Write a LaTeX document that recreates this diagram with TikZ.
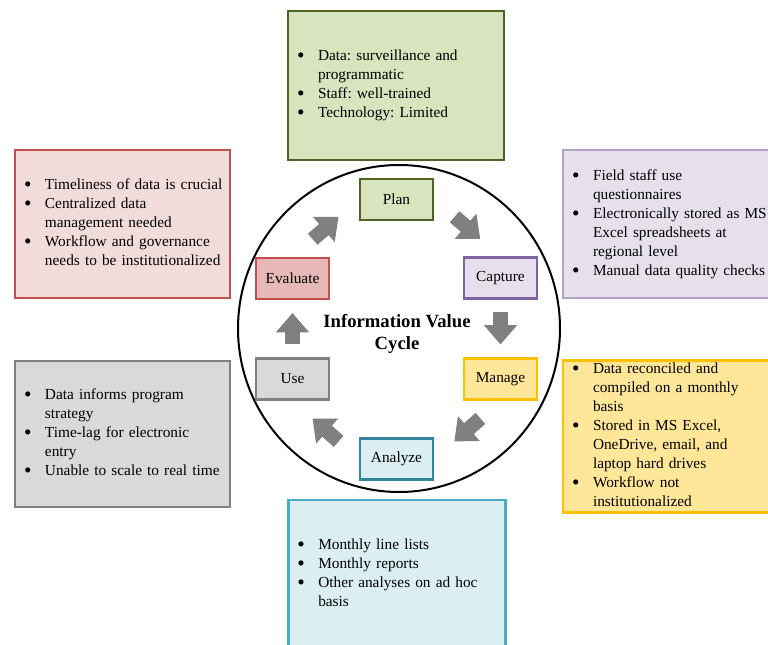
\documentclass[tikz,border=0pt]{standalone}
\usepackage{fontspec}
\setmainfont{Liberation Serif}
\usetikzlibrary{arrows.meta}

\definecolor{grnfill}{HTML}{D7E4BD}
\definecolor{grnline}{HTML}{4F6228}
\definecolor{redfill}{HTML}{F2DCDB}
\definecolor{redline}{HTML}{C0504D}
\definecolor{evalfill}{HTML}{E6B9B8}
\definecolor{greyfill}{HTML}{D9D9D9}
\definecolor{greyline}{HTML}{808080}
\definecolor{purfill}{HTML}{E6E0EC}
\definecolor{purline}{HTML}{B3A2C7}
\definecolor{capline}{HTML}{8064A2}
\definecolor{yelfill}{HTML}{FFE699}
\definecolor{yelline}{HTML}{FFC000}
\definecolor{blufill}{HTML}{DBEEF4}
\definecolor{bluline}{HTML}{4BACC6}
\definecolor{analine}{HTML}{31859C}
\definecolor{arrowgrey}{HTML}{808080}

\frenchspacing
\newcommand{\blist}[1]{\noindent\begin{tabular}{@{}p{15.75pt}@{}l@{}}#1\end{tabular}}
\newcommand{\bl}{\smash{\raisebox{-0.12em}{\fontsize{16}{16}\selectfont\textbullet}}}

\begin{document}
\begin{tikzpicture}[x=0.75pt,y=-0.75pt,
            every node/.style={font=\fontsize{11.5}{14.25}\selectfont},
            infobox/.style={draw, line width=2pt, align=left, inner xsep=6.75pt, inner ysep=0pt},
            stage/.style={draw, line width=2pt, minimum width=54.75pt, minimum height=30.75pt, inner sep=0pt},
            cycarrow/.style={arrowgrey, line width=11pt, -{Triangle[width=24pt,length=14.5pt]}, shorten <=#1, shorten >=#1},
            cycarrow/.default=20pt]
            \useasboundingbox (0,0) rectangle (768,645);
            % outer boxes
            \node [infobox, draw=grnline, fill=grnfill, text width=148.5pt, minimum height=111.75pt] (plantxt) at (396,85.5)
                {\blist{\bl & Data: surveillance and\\ & programmatic\\ \bl & Staff: well-trained\\ \bl & Technology: Limited}};
            \node [infobox, draw=redline, fill=redfill, text width=147.75pt, minimum height=111pt] (evaltxt) at (122.5,224)
                {\blist{\bl & Timeliness of data is crucial\\ \bl & Centralized data\\ & management needed\\ \bl & Workflow and governance\\ & needs to be institutionalized}};
            \node [infobox, draw=greyline, fill=greyfill, text width=147.75pt, minimum height=109.5pt] (usetxt) at (122.5,434)
                {\blist{\bl & Data informs program\\ & strategy\\ \bl & Time-lag for electronic\\ & entry\\ \bl & Unable to scale to real time}};
            \node [infobox, draw=purline, fill=purfill, text width=156.75pt, minimum height=111pt] (captxt) at (676.5,224)
                {\blist{\bl & Field staff use\\ & questionnaires\\ \bl & Electronically stored as MS\\ & Excel spreadsheets at\\ & regional level\\ \bl & Manual data quality checks}};
            \node [infobox, draw=yelline, fill=yelfill, text width=156.75pt, minimum height=110.25pt] (mantxt) at (676.5,436.5)
                {\blist{\bl & Data reconciled and\\ & compiled on a monthly\\ & basis\\ \bl & Stored in MS Excel,\\ & OneDrive, email, and\\ & laptop hard drives\\ \bl & Workflow not\\ & institutionalized}};
            \node [infobox, draw=bluline, fill=blufill, text width=149.25pt, minimum height=111.75pt] (anatxt) at (396.75,574.5)
                {\blist{\bl & Monthly line lists\\ \bl & Monthly reports\\ \bl & Other analyses on ad hoc\\ & basis}};
            % cycle
            \draw [black, line width=1.5pt] (399,328.5) circle [x radius=161, y radius=163.5];
            \node [font=\fontsize{14}{16.5}\selectfont\bfseries, align=center] (title) at (397,334) {Information Value\\Cycle};
            \node [stage, draw=grnline, fill=grnfill] (plan) at (396.5,199.5) {Plan};
            \node [stage, draw=capline, fill=purfill] (capture) at (500.5,278) {Capture};
            \node [stage, draw=yelline, fill=yelfill] (manage) at (500.5,379) {Manage};
            \node [stage, draw=analine, fill=blufill] (analyze) at (396.5,459) {Analyze};
            \node [stage, draw=greyline, fill=greyfill] (use) at (292.5,379) {Use};
            \node [stage, draw=redline, fill=evalfill] (evaluate) at (292.5,278.5) {Evaluate};
            \draw [cycarrow] (plan.east) -- (capture.north);
            \draw [cycarrow=9.5pt] (capture.south) -- (manage.north);
            \draw [cycarrow] (manage.south) -- (analyze.east);
            \draw [cycarrow] (analyze.west) -- (use.south);
            \draw [cycarrow=9.5pt] (use.north) -- (evaluate.south);
            \draw [cycarrow] (evaluate.north) -- (plan.west);
\end{tikzpicture}
\end{document}
